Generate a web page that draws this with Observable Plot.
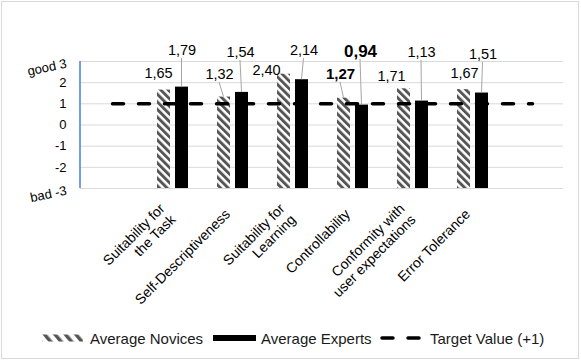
<!DOCTYPE html>
<html><head><meta charset="utf-8">
<script src="https://cdn.jsdelivr.net/npm/d3@7"></script>
<script src="https://cdn.jsdelivr.net/npm/@observablehq/plot@0.6"></script>
<style>
body{margin:0;background:#fff;font-family:"Liberation Sans",Arial,sans-serif;}
#wrap{position:relative;width:581px;height:361px;overflow:hidden;background:#fff;}
#border{position:absolute;left:1px;top:1px;width:578px;height:358px;border:1px solid #d9d9d9;box-sizing:border-box;pointer-events:none;}
#legend{position:absolute;top:328px;left:0;width:581px;height:20px;font-size:15px;color:#1a1a1a;}
.item{position:absolute;top:0;height:20px;display:flex;align-items:center;white-space:nowrap;}
.item svg{display:block;}
</style></head><body>
<div id="wrap"><div id="chart"></div><div id="legend"></div><div id="border"></div></div>
<script>
// ---- data ----
const categories = ["Suitability for\nthe Task", "Self-Descriptiveness", "Suitability for\nLearning", "Controllability", "Conformity with\nuser expectations", "Error Tolerance"];
const novices = [1.65, 1.32, 2.40, 1.27, 1.71, 1.67];
const experts = [1.79, 1.54, 2.14, 0.94, 1.13, 1.51];
const novicesText = ["1,65", "1,32", "2,40", "1,27", "1,71", "1,67"];
const expertsText = ["1,79", "1,54", "2,14", "0,94", "1,13", "1,51"];
const boldCategory = "Controllability";
const targetValue = 1;
const yTicks = [-3, -2, -1, 0, 1, 2, 3];
const yTickLabels = ["bad -3", "-2", "-1", "0", "1", "2", "good 3"];
const seriesNames = ["Average Novices", "Average Experts", "Target Value (+1)"];

// ---- layout of the (manually placed) data labels, px relative to band centre / frame top ----
const novLabelDx = [-14, -13, -26, -12, -21, -8];
const novLabelDy = [12, 13, 9, 13, 15, 12];
const expLabelDx = [9.5, 8, 11.5, 8, 9, 10.5];
const expLabelDy = [-11, -9, -11, -10, -9, -7];
const novBarOffset = -8.5, expBarOffset = 9.5;

const xDomain = ["start", ...categories, "end"];
const rows = categories.map((c, i) => ({category: c, novices: novices[i], experts: experts[i], nText: novicesText[i], eText: expertsText[i], i}));
const yMin = yTicks[0], yMax = yTicks[yTicks.length - 1];
const ends = yTicks.map((t, i) => ({t, label: yTickLabels[i]}));

const defsMark = () => {
  const defs = d3.create("svg:defs");
  const p = defs.append("pattern").attr("id", "hatch").attr("patternUnits", "userSpaceOnUse")
    .attr("width", 5.4).attr("height", 10).attr("patternTransform", "rotate(-45)");
  p.append("rect").attr("width", 5.4).attr("height", 10).attr("fill", "#fff");
  p.append("rect").attr("width", 2.9).attr("height", 10).attr("fill", "#555");
  return defs.node();
};
const leftLine = (index, scales, values, dims) => d3.create("svg:line")
  .attr("x1", dims.marginLeft).attr("x2", dims.marginLeft)
  .attr("y1", scales.y(yMax)).attr("y2", scales.y(yMin))
  .attr("stroke", "#4a80d8").attr("stroke-width", 1.5).node();

const leaders = (index, scales, values, dims) => {
  const g = d3.create("svg:g").attr("stroke", "#a6a6a6").attr("stroke-width", 1).attr("fill", "none");
  const bw = scales.x(xDomain[2]) - scales.x(xDomain[1]);
  rows.forEach((r, i) => {
    const c = scales.x(r.category) + bw / 2;
    const items = [
      {lx: c + novLabelDx[i], ly: dims.marginTop + novLabelDy[i] + 8, bx: c + novBarOffset, by: scales.y(r.novices)},
      {lx: c + expLabelDx[i], ly: dims.marginTop + expLabelDy[i] + 8, bx: c + expBarOffset, by: scales.y(r.experts)}
    ];
    for (const it of items) {
      if (it.by - it.ly > 12) g.append("line").attr("x1", it.lx).attr("y1", it.ly).attr("x2", it.bx).attr("y2", it.by);
    }
  });
  return g.node();
};

const labelMarks = rows.flatMap((r, i) => {
  const bold = r.category === boldCategory;
  return [
    Plot.text([r], {x: "category", text: "nText", frameAnchor: "top", lineAnchor: "middle", dx: novLabelDx[i], dy: novLabelDy[i], fontSize: bold ? 15 : 14.5, fontWeight: bold ? "bold" : "normal", fill: "#000"}),
    Plot.text([r], {x: "category", text: "eText", frameAnchor: "top", lineAnchor: "middle", dx: expLabelDx[i], dy: expLabelDy[i], fontSize: bold ? 17 : 14.5, fontWeight: bold ? "bold" : "normal", fill: "#000"})
  ];
});

const plot = Plot.plot({
  width: 581, height: 320,
  marginLeft: 80, marginRight: 18, marginTop: 61, marginBottom: 132,
  style: {fontFamily: "Liberation Sans, Arial, sans-serif", background: "transparent", overflow: "visible", color: "#000"},
  x: {type: "band", domain: xDomain, padding: 0, axis: null},
  y: {domain: [yMin, yMax], axis: null},
  marks: [
    defsMark,
    Plot.ruleY(yTicks, {stroke: "#d9d9d9", strokeWidth: 1}),
    leftLine,
    Plot.text(ends.filter(d => d.t > yMin && d.t < yMax), {y: "t", text: "label", frameAnchor: "left", dx: -14, textAnchor: "end", fontSize: 13, fill: "#000"}),
    Plot.text(ends.filter(d => d.t === yMin || d.t === yMax), {y: "t", text: "label", frameAnchor: "left", dx: -14, dy: 2, textAnchor: "end", rotate: -12, fontSize: 13, fill: "#000"}),
    Plot.barY(rows, {x: "category", y1: yMin, y2: "novices", fill: "url(#hatch)", insetLeft: 15, insetRight: 32}),
    Plot.barY(rows, {x: "category", y1: yMin, y2: "experts", fill: "#000", insetLeft: 33, insetRight: 14}),
    Plot.line(xDomain, {x: d => d, y: () => targetValue, stroke: "#000", strokeWidth: 3.5, strokeDasharray: "11,15", strokeLinecap: "round"}),
    leaders,
    ...labelMarks,
    Plot.text(categories, {x: d => d, text: d => d, frameAnchor: "bottom", lineAnchor: "middle", dy: 23, dx: -5, rotate: -45, textAnchor: "end", lineHeight: 1.1, fontSize: 14, fill: "#000"})
  ]
});
document.getElementById("chart").appendChild(plot);

const legend = d3.select("#legend");
const i1 = legend.append("div").attr("class", "item").style("left", "42px");
const s1 = i1.append("svg").attr("width", 41).attr("height", 8).style("margin-right", "7px");
const lp = s1.append("defs").append("pattern").attr("id", "hatchL").attr("patternUnits", "userSpaceOnUse")
  .attr("width", 8).attr("height", 8).attr("patternTransform", "rotate(-40)");
lp.append("rect").attr("width", 3.5).attr("height", 8).attr("fill", "#555");
s1.append("rect").attr("width", 41).attr("height", 7).attr("y", 0.5).attr("fill", "url(#hatchL)");
i1.append("span").text(seriesNames[0]);

const i2 = legend.append("div").attr("class", "item").style("left", "213px");
i2.append("svg").attr("width", 43).attr("height", 8).style("margin-right", "5px")
  .append("rect").attr("width", 43).attr("height", 6).attr("y", 1).attr("fill", "#000");
i2.append("span").text(seriesNames[1]);

const i3 = legend.append("div").attr("class", "item").style("left", "380px");
i3.append("svg").attr("width", 44).attr("height", 8).style("margin-right", "6px")
  .append("line").attr("x1", 2).attr("x2", 42).attr("y1", 4).attr("y2", 4)
  .attr("stroke", "#000").attr("stroke-width", 3.5).attr("stroke-dasharray", "11,15").attr("stroke-linecap", "round");
i3.append("span").text(seriesNames[2]);
</script>
</body></html>
